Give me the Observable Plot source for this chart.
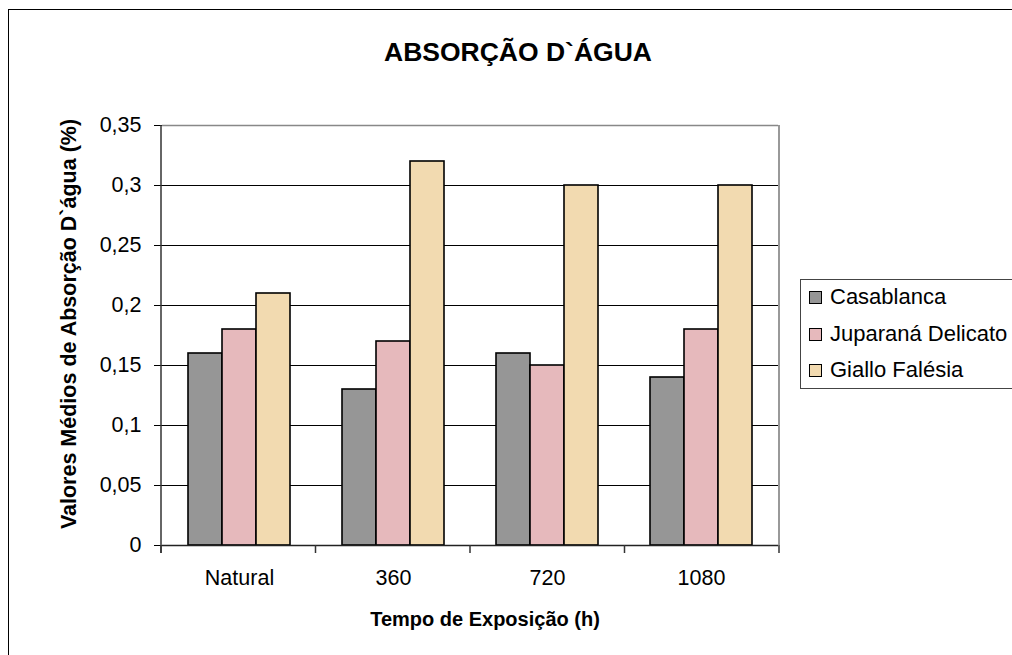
<!DOCTYPE html>
<html>
<head>
<meta charset="utf-8">
<script src="https://cdn.jsdelivr.net/npm/d3@7"></script>
<script src="https://cdn.jsdelivr.net/npm/@observablehq/plot@0.6"></script>
<style>
  html, body { margin: 0; padding: 0; background: #fff; }
  body { width: 1012px; height: 655px; overflow: hidden; position: relative; font-family: "Liberation Sans", Arial, sans-serif; }
  #border { position: absolute; left: 8px; top: 9px; width: 1100px; height: 700px; border: 1.5px solid #000; box-sizing: border-box; }
  #chart { position: absolute; left: 0; top: 0; }
  .title { position: absolute; left: 518px; top: 52px; transform: translate(-50%, -50%); font-weight: bold; font-size: 26.5px; white-space: nowrap; color: #000; }
  .ytitle { position: absolute; left: 69px; top: 324px; transform: translate(-50%, -50%) rotate(-90deg); font-weight: bold; font-size: 21.5px; white-space: nowrap; color: #000; }
  .xtitle { position: absolute; left: 485px; top: 619px; transform: translate(-50%, -50%); font-weight: bold; font-size: 20px; white-space: nowrap; color: #000; }
  #legend { position: absolute; left: 800px; top: 279px; width: 260px; height: 110px; border: 1.5px solid #444; box-sizing: border-box; background: #fff; }
  .item { position: absolute; left: 8px; display: flex; align-items: center; font-size: 22px; white-space: nowrap; color: #000; }
  .sw { width: 11px; height: 11px; border: 1.5px solid #000; margin-right: 8px; }
</style>
</head>
<body>
<div id="border"></div>
<div id="chart"></div>
<div class="title">ABSORÇÃO D`ÁGUA</div>
<div class="ytitle">Valores Médios de Absorção D`água (%)</div>
<div class="xtitle">Tempo de Exposição (h)</div>
<div id="legend"></div>
<script>
// ---- Data ----
const categories = ["Natural", "360", "720", "1080"];
const series = ["Casablanca", "Juparaná Delicato", "Giallo Falésia"];
const casablanca = [0.16, 0.13, 0.16, 0.14];
const juparana = [0.18, 0.17, 0.15, 0.18];
const giallo = [0.21, 0.32, 0.30, 0.30];
const colors = ["#969696", "#e6b9bc", "#f2dab0"];
const yTicks = [0, 0.05, 0.1, 0.15, 0.2, 0.25, 0.3, 0.35];
const yTickLabels = ["0", "0,05", "0,1", "0,15", "0,2", "0,25", "0,3", "0,35"];

const seriesValues = [casablanca, juparana, giallo];
const rows = categories.flatMap((c, i) =>
  series.map((s, j) => ({ category: c, series: s, value: seriesValues[j][i] }))
);

// ---- Layout ----
const W = 1012, H = 655, ML = 161, MR = 233, MT = 125, MB = 110;

const plot = Plot.plot({
  width: W, height: H,
  marginLeft: ML, marginRight: MR, marginTop: MT, marginBottom: MB,
  facet: { data: rows, x: "category" },
  fx: { domain: categories, padding: 0, label: null, tickSize: 0, tickPadding: 24 },
  x: { domain: series, paddingInner: 0, paddingOuter: 0.75, axis: null },
  y: {
    domain: [0, 0.35], ticks: yTicks, tickSize: 8, tickPadding: 13, label: null,
    tickFormat: d => yTickLabels[yTicks.indexOf(d)]
  },
  color: { domain: series, range: colors },
  style: { fontSize: "21.5px", fontFamily: "'Liberation Sans', Arial, sans-serif", color: "#000", background: "transparent", overflow: "visible" },
  marks: [
    Plot.ruleY(yTicks.slice(1, -1), { stroke: "#000", strokeWidth: 1 }),
    Plot.ruleY([0.35], { stroke: "#888", strokeWidth: 1.5 }),
    Plot.barY(rows, { x: "series", y: "value", fill: "series", stroke: "#000", strokeWidth: 1.6 }),
    Plot.ruleY([0], { stroke: "#222", strokeWidth: 1.6 })
  ]
});
document.getElementById("chart").appendChild(plot);

// frame lines and category boundary ticks
const svg = d3.select(plot);
const y0 = H - MB, yTop = MT;
const bw = (W - ML - MR) / categories.length;
const g = svg.append("g");
g.append("line").attr("x1", W - MR).attr("x2", W - MR).attr("y1", yTop).attr("y2", y0)
  .attr("stroke", "#999").attr("stroke-width", 2);
g.append("line").attr("x1", ML).attr("x2", ML).attr("y1", yTop).attr("y2", y0 + 8)
  .attr("stroke", "#333").attr("stroke-width", 1.5);
d3.range(categories.length + 1).forEach(i => {
  g.append("line").attr("x1", ML + i * bw).attr("x2", ML + i * bw)
    .attr("y1", y0).attr("y2", y0 + 8).attr("stroke", "#333").attr("stroke-width", 1.5);
});

// legend
const legend = document.getElementById("legend");
const legendTops = [18, 55, 91];
series.forEach((s, j) => {
  const it = document.createElement("div");
  it.className = "item";
  it.style.top = (legendTops[j] - 14) + "px";
  it.innerHTML = `<span class="sw" style="background:${colors[j]}"></span><span>${s}</span>`;
  legend.appendChild(it);
});
</script>
</body>
</html>
